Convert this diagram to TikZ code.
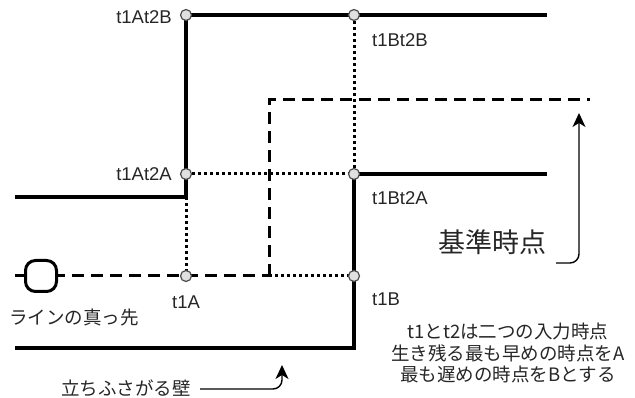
\documentclass[tikz,border=0pt]{standalone}
\usepackage{fontspec}
\setmainfont{Liberation Sans}
\newfontfamily\jpfont{Noto Sans CJK JP}
\usetikzlibrary{arrows.meta}
\pgfdeclarelayer{bg}
\pgfsetlayers{bg,main}
\begin{document}
\begin{tikzpicture}[x=1pt,y=-1pt,
  wall/.style={line width=4pt,line cap=butt,line join=miter},
  dashline/.style={line width=3pt,dash pattern=on 12pt off 7pt},
  dotline/.style={line width=3pt,dash pattern=on 3pt off 3pt},
  pt/.style={circle,draw=black!70,fill=black!12,line width=1.2pt,minimum size=11pt,inner sep=0pt},
  lbl/.style={font=\fontsize{18.5}{20}\selectfont,text=black!85,inner sep=0pt},
  jlbl/.style={font=\jpfont\fontsize{18.5}{21.5}\selectfont,text=black!85,inner sep=0pt},
  callout/.style={line width=1.4pt,rounded corners=9pt,-{Stealth[length=14pt,width=13pt,inset=4pt]}}]
\useasboundingbox (0,0) rectangle (635,398);
% points
\node[pt] (AB) at (186,15) {};
\node[pt] (BB) at (354,15) {};
\node[pt] (AA) at (186,174) {};
\node[pt] (BA) at (354,174) {};
\node[pt] (A) at (186,276) {};
\node[pt] (B) at (354,276) {};
\node[draw,line width=3pt,fill=white,rounded corners=10pt,minimum width=31pt,minimum height=31pt,inner sep=0pt] (head) at (41,276) {};
\coordinate (topR) at (547,15);
\coordinate (midR) at (547,174);
\coordinate (leftL) at (15,197);
\coordinate (leftC) at (186,197);
\coordinate (botL) at (15,348);
\coordinate (botC) at (354,348);
\coordinate (lineStart) at (15,276);
\coordinate (dcorner) at (269,276);
\coordinate (dtop) at (269,100);
\coordinate (dend) at (590,100);
\begin{pgfonlayer}{bg}
\draw[wall] (leftL) -- (leftC) -- (AB.center) -- (topR);
\draw[wall] (botL) -- (botC) -- (BA.center) -- (midR);
\draw[dashline] (lineStart) -- (dcorner);
\draw[dashline] (dcorner) -- (dtop) -- (dend);
\draw[dotline] (dcorner) -- (B.center);
\draw[dotline] (AA.center) -- (BA.center);
\draw[dotline] (BB.center) -- (BA.center);
\draw[dotline] (leftC) -- (A.center);
\end{pgfonlayer}
% labels
\node[lbl,anchor=east] (lAB) at (172,17) {t1At2B};
\node[lbl,anchor=east] (lAA) at (172,174) {t1At2A};
\node[lbl,anchor=west] (lBB) at (372,40) {t1Bt2B};
\node[lbl,anchor=west] (lBA) at (372,198) {t1Bt2A};
\node[lbl] (lA) at (186,302) {t1A};
\node[lbl,anchor=west] (lB) at (372,299) {t1B};
\node[jlbl] (lhead) at (74,318) {ラインの真っ先};
\node[jlbl] (lwall) at (126,388) {立ちふさがる壁};
\node[jlbl,font=\jpfont\fontsize{27}{30}\selectfont] (lbase) at (492,242) {基準時点};
\node[jlbl,align=center] (note) at (508,353) {t1とt2は二つの入力時点\\生き残る最も早めの時点をA\\最も遅めの時点をBとする};
% callouts
\coordinate (c1s) at (556,263);
\coordinate (c1e) at (579,113);
\coordinate (c2s) at (200,389);
\coordinate (c2e) at (282,365);
\draw[callout] (c1s) -| (c1e);
\draw[callout] (c2s) -| (c2e);
\end{tikzpicture}
\end{document}
